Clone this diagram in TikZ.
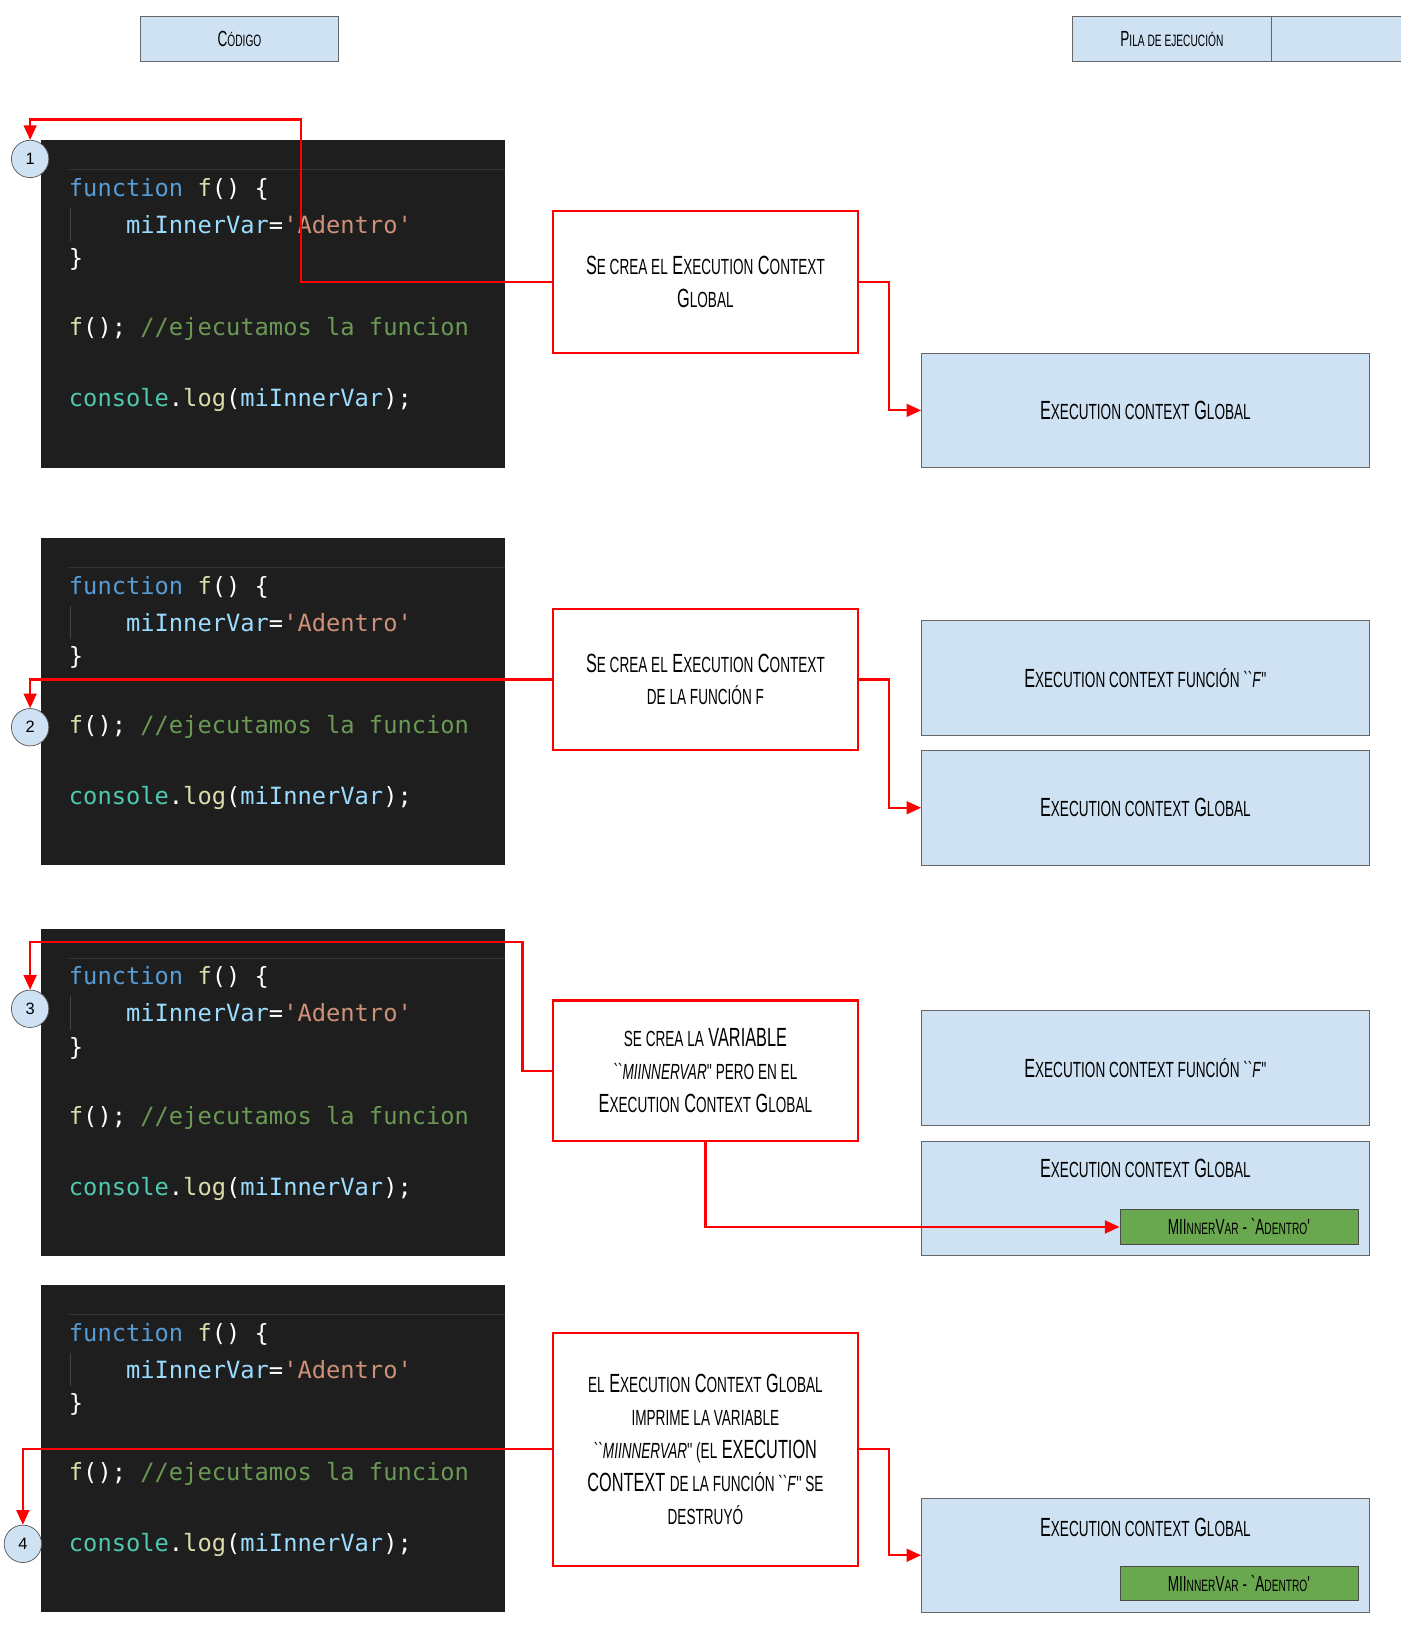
\documentclass[tikz,border=0pt]{standalone}
\usepackage{fontspec}
\setmainfont{Liberation Sans}
\newfontfamily\hand[FakeStretch=0.62]{Liberation Sans}
\newfontfamily\codef{DejaVu Sans Mono}
\usetikzlibrary{arrows.meta}
\definecolor{hdr}{HTML}{CFE2F3}
\definecolor{codebg}{HTML}{1E1E1E}
\definecolor{kw}{HTML}{569CD6}
\definecolor{fn}{HTML}{DCDCAA}
\definecolor{var}{HTML}{9CDCFE}
\definecolor{str}{HTML}{CE9178}
\definecolor{cmt}{HTML}{6A9955}
\definecolor{cls}{HTML}{4EC9B0}
\definecolor{grn}{HTML}{6AA84F}
\newcommand{\Sc}[1]{{\hand\MakeUppercase{#1}}}
\tikzset{
 hdrbox/.style={draw=gray!80!black,fill=hdr,minimum width=3.82cm,minimum height=0.86cm,font=\hand\large},
 stack/.style={draw=gray!80!black,fill=hdr,minimum width=8.62cm,minimum height=2.2cm,font=\hand\Large},
 callout/.style={draw=red,line width=1.2pt,fill=white,minimum width=5.88cm,align=center,font=\hand\Large},
 varbox/.style={draw=black!70,fill=grn,minimum width=4.58cm,minimum height=0.66cm,font=\hand\large},
 num/.style={circle,draw=gray!70!black,fill=hdr,minimum size=0.72cm,inner sep=0pt,font=\small},
 link/.style={red,line width=1.2pt,-{Triangle[length=8pt,width=7pt]}},
 code/.style={anchor=west,inner sep=0pt,font=\codef\fontsize{13}{13}\selectfont,text=white}
}
\newcommand{\codepanel}[2]{%
 \fill[codebg] (0.78,#1) rectangle (9.72,#1-6.3);
 \draw[gray!25!codebg] (1.32,#1-0.56) -- (9.72,#1-0.56);
 \draw[gray!40!codebg] (1.36,#1-1.3) -- (1.36,#1-1.94);
 \node[code] (#2a) at (1.32,#1-0.94) {\textcolor{kw}{function} \textcolor{fn}{f}() \{};
 \node[code] (#2b) at (2.42,#1-1.62) {\textcolor{var}{miInnerVar}=\textcolor{str}{'Adentro'}};
 \node[code] (#2c) at (1.32,#1-2.3) {\}};
 \node[code] (#2d) at (1.32,#1-3.64) {\textcolor{fn}{f}(); \textcolor{cmt}{//ejecutamos la funcion}};
 \node[code] (#2e) at (1.32,#1-5.0) {\textcolor{cls}{console}.\textcolor{fn}{log}(\textcolor{var}{miInnerVar});};
}
\begin{document}
\begin{tikzpicture}
\useasboundingbox (0,0) rectangle (26.96,-31.36);
\node[hdrbox] (h1) at (4.61,-0.75) {\Sc{C}{\small\Sc{ódigo}}};
\node[hdrbox] (h2) at (25.56,-0.75) {};
\node[hdrbox] (h2) at (22.56,-0.75) {\Sc{P}{\small\Sc{ila de ejecución}}};
\codepanel{-2.7}{p1}
\codepanel{-10.36}{p2}
\codepanel{-17.88}{p3}
\codepanel{-24.74}{p4}
% numbers
\node[num] (n1) at (0.58,-3.06) {1};
\node[num] (n2) at (0.58,-14.0) {2};
\node[num] (n3) at (0.58,-19.42) {3};
\node[num] (n4) at (0.44,-29.72) {4};
% callouts
\node[callout,minimum height=2.74cm] (c1) at (13.58,-5.43) {S{\large\Sc{e crea el}} E{\large\Sc{xecution}} C{\large\Sc{ontext}}\\G{\large\Sc{lobal}}};
\node[callout,minimum height=2.72cm] (c2) at (13.58,-13.08) {S{\large\Sc{e crea el}} E{\large\Sc{xecution}} C{\large\Sc{ontext}}\\{\large\Sc{de la función f}}};
\node[callout,minimum height=2.7cm] (c3) at (13.58,-20.61) {{\large\Sc{se crea la}} \Sc{variable}\\{\large\Sc{``\textit{miInnerVar}'' pero en el}}\\E{\large\Sc{xecution}} C{\large\Sc{ontext}} G{\large\Sc{lobal}}};
\node[callout,minimum height=4.48cm] (c4) at (13.58,-27.9) {{\large\Sc{el}} E{\large\Sc{xecution}} C{\large\Sc{ontext}} G{\large\Sc{lobal}}\\{\large\Sc{imprime la variable}}\\{\large\Sc{``\textit{miInnerVar}'' (el}} {\Sc{execution}}\\{\Sc{context}} {\large\Sc{de la función ``\textit{f}'' se}}\\{\large\Sc{destruyó}}};
% stack
\node[stack] (s1) at (22.05,-7.9) {E{\large\Sc{xecution context}} G{\large\Sc{lobal}}};
\node[stack] (s2f) at (22.05,-13.05) {E{\large\Sc{xecution context función ``\textit{f}''}}};
\node[stack] (s2g) at (22.05,-15.55) {E{\large\Sc{xecution context}} G{\large\Sc{lobal}}};
\node[stack] (s3f) at (22.05,-20.56) {E{\large\Sc{xecution context función ``\textit{f}''}}};
\node[stack] (s3g) at (22.05,-23.07) {};
\node[font=\hand\Large] (s3t) at (22.05,-22.5) {E{\large\Sc{xecution context}} G{\large\Sc{lobal}}};
\node[varbox] (v3) at (23.85,-23.62) {{\Sc{miI}}{\small\Sc{nner}}{\Sc{V}}{\small\Sc{ar}} - `A{\small\Sc{dentro}}'};
\node[stack] (s4) at (22.05,-29.94) {};
\node[font=\hand\Large] (s4t) at (22.05,-29.4) {E{\large\Sc{xecution context}} G{\large\Sc{lobal}}};
\node[varbox] (v4) at (23.85,-30.48) {{\Sc{miI}}{\small\Sc{nner}}{\Sc{V}}{\small\Sc{ar}} - `A{\small\Sc{dentro}}'};
% links
\draw[link] (c1.west) -- (5.8,-5.43) -- (5.8,-2.3) -| (n1.north);
\draw[link] (c1.east) -- (17.12,-5.43) |- (s1.west);
\draw[link] (c2.west) -| (n2.north);
\draw[link] (c2.east) -- (17.12,-13.08) |- (s2g.west);
\draw[link] (c3.west) -- (10.06,-20.61) -- (10.06,-18.14) -| (n3.north);
\draw[link] (c3.south) |- (v3.west);
\draw[link] (c4.west) -- (0.44,-27.9) -- (n4.north);
\draw[link] (c4.east) -- (17.12,-27.9) |- (s4.west);
\end{tikzpicture}
\end{document}
